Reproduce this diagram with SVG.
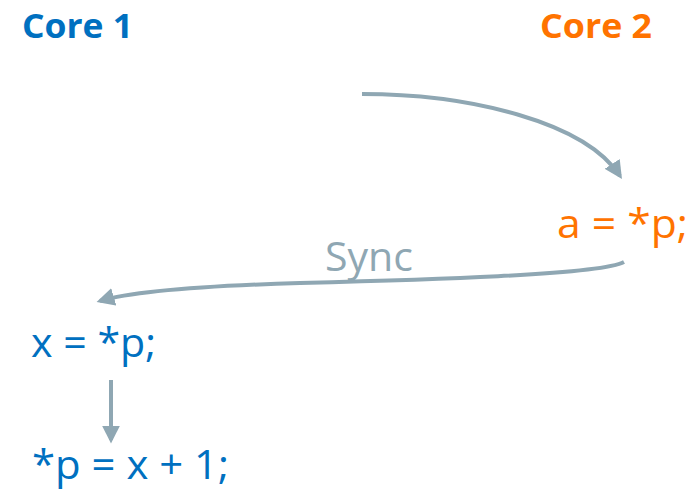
<svg xmlns="http://www.w3.org/2000/svg" width="698" height="494" viewBox="0 0 698 494">
<style>
.lbl{font-family:"Open Sans","Liberation Sans",sans-serif}
.hd{font-weight:bold;font-size:34px}
.c1{fill:#0070C0}
.c2{fill:#FF7300}
.code{font-size:40px}
.conn{fill:none;stroke:#8FA7B3;stroke-width:4;stroke-linecap:butt}
</style>
<defs>
<marker id="ah" viewBox="0 0 10 10" refX="8" refY="5" markerWidth="4.5" markerHeight="4.5" orient="auto" markerUnits="strokeWidth">
<path d="M0,0 L10,5 L0,10 z" fill="#8FA7B3"/>
</marker>
</defs>
<g id="core1"><text class="lbl hd c1" x="22" y="38" textLength="111" lengthAdjust="spacingAndGlyphs">Core 1</text></g>
<g id="core2"><text class="lbl hd c2" x="540" y="38" textLength="112" lengthAdjust="spacingAndGlyphs">Core 2</text></g>
<g id="a"><text class="lbl code c2" x="557" y="238" textLength="131" lengthAdjust="spacingAndGlyphs">a = *p;</text></g>
<g id="x"><text class="lbl code c1" x="31" y="357" textLength="125" lengthAdjust="spacingAndGlyphs">x = *p;</text></g>
<g id="p"><text class="lbl code c1" x="32" y="479" textLength="197" lengthAdjust="spacingAndGlyphs">*p = x + 1;</text></g>
<g id="connectors">
<path class="conn" d="M362,94 C470,94 585,122 620,176" marker-end="url(#ah)"/>
<path class="conn" d="M624,262 C600,275 420,280 300,283 C200,286 130,292 100,301" marker-end="url(#ah)"/>
<path class="conn" d="M111,380 L111,440" marker-end="url(#ah)"/>
<text class="lbl" x="325" y="271" font-size="40" fill="#8FA7B3" textLength="88" lengthAdjust="spacingAndGlyphs">Sync</text>
</g>
</svg>
